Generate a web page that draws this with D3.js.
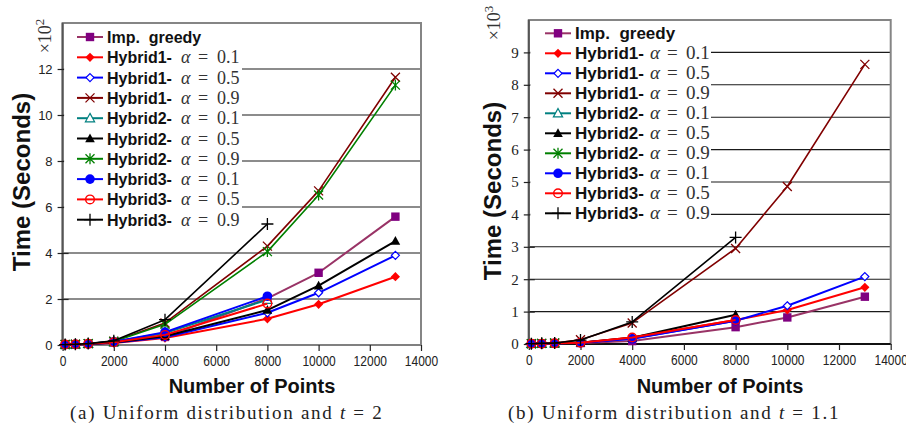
<!DOCTYPE html>
<html>
<head>
<meta charset="utf-8">
<script src="https://cdn.jsdelivr.net/npm/d3@7"></script>
<style>
  body { margin: 0; background: #fff; }
  svg { display: block; }
</style>
</head>
<body>
<svg id="fig" width="906" height="433"></svg>
<script>
// Problem sizes (number of points) shared by both panels
const pointCounts = [100, 500, 1000, 2000, 4000, 8000, 10000, 13000];
const xTickValues = [0, 2000, 4000, 6000, 8000, 10000, 12000, 14000];

// Legend entries
const methodNames = ["Imp. greedy", "Hybrid1-", "Hybrid1-", "Hybrid1-", "Hybrid2-", "Hybrid2-", "Hybrid2-", "Hybrid3-", "Hybrid3-", "Hybrid3-"];
const alphaValues = ["", "0.1", "0.5", "0.9", "0.1", "0.5", "0.9", "0.1", "0.5", "0.9"];

// Panel (a): uniform distribution, t = 2 (time in units of 10^2 s)
const yTicksA = [0, 2, 4, 6, 8, 10, 12];
const aImpGreedy = [0.02, 0.03, 0.05, 0.12, 0.35, 2.03, 3.14, 5.58];
const aHybrid1a01 = [0.01, 0.02, 0.04, 0.09, 0.30, 1.14, 1.77, 2.97];
const aHybrid1a05 = [0.01, 0.02, 0.04, 0.10, 0.34, 1.40, 2.27, 3.90];
const aHybrid1a09 = [0.02, 0.03, 0.06, 0.16, 0.96, 4.30, 6.70, 11.64];
const aHybrid2a01 = [0.02, 0.03, 0.05, 0.13, 0.52, 1.97];
const aHybrid2a05 = [0.01, 0.02, 0.04, 0.11, 0.38, 1.52, 2.58, 4.52];
const aHybrid2a09 = [0.02, 0.03, 0.06, 0.15, 0.90, 4.06, 6.52, 11.30];
const aHybrid3a01 = [0.02, 0.03, 0.05, 0.14, 0.56, 2.12];
const aHybrid3a05 = [0.02, 0.03, 0.05, 0.12, 0.44, 1.80];
const aHybrid3a09 = [0.02, 0.03, 0.06, 0.18, 1.10, 5.26];

// Panel (b): uniform distribution, t = 1.1 (time in units of 10^3 s)
const yTicksB = [0, 1, 2, 3, 4, 5, 6, 7, 8, 9];
const bImpGreedy = [0.01, 0.01, 0.02, 0.03, 0.09, 0.52, 0.82, 1.46];
const bHybrid1a01 = [0.01, 0.01, 0.02, 0.04, 0.20, 0.74, 1.05, 1.75];
const bHybrid1a05 = [0.01, 0.01, 0.02, 0.04, 0.17, 0.72, 1.18, 2.08];
const bHybrid1a09 = [0.01, 0.02, 0.03, 0.13, 0.65, 2.95, 4.86, 8.63];
const bHybrid2a01 = [0.01, 0.01, 0.02];
const bHybrid2a05 = [0.01, 0.01, 0.02, 0.04, 0.19, 0.90];
const bHybrid2a09 = [0.01, 0.02, 0.03];
const bHybrid3a01 = [0.01, 0.01, 0.02, 0.04, 0.16, 0.72];
const bHybrid3a05 = [0.01, 0.01, 0.02, 0.04, 0.20, 0.74];
const bHybrid3a09 = [0.01, 0.02, 0.03, 0.12, 0.68, 3.29];

// Line and marker style for each method, in legend order
const styles = [
  { line: "#993366", color: "#800080", marker: "square",   width: 2 },
  { line: "#ff0000", color: "#ff0000", marker: "diamond",  width: 2 },
  { line: "#0000ff", color: "#0000ff", marker: "diamondOpen", width: 2 },
  { line: "#800000", color: "#800000", marker: "cross",    width: 1.6 },
  { line: "#008080", color: "#008080", marker: "triangleOpen", width: 2 },
  { line: "#000000", color: "#000000", marker: "triangle", width: 2 },
  { line: "#008000", color: "#008000", marker: "asterisk", width: 1.6 },
  { line: "#0000ff", color: "#0000ff", marker: "circle",   width: 2 },
  { line: "#ff0000", color: "#ff0000", marker: "circleOpen", width: 2 },
  { line: "#000000", color: "#000000", marker: "plus",     width: 1.6 }
];

const seriesA = [aImpGreedy, aHybrid1a01, aHybrid1a05, aHybrid1a09, aHybrid2a01, aHybrid2a05, aHybrid2a09, aHybrid3a01, aHybrid3a05, aHybrid3a09];
const seriesB = [bImpGreedy, bHybrid1a01, bHybrid1a05, bHybrid1a09, bHybrid2a01, bHybrid2a05, bHybrid2a09, bHybrid3a01, bHybrid3a05, bHybrid3a09];

const svg = d3.select("#fig");
svg.append("rect").attr("width", 906).attr("height", 433).attr("fill", "#fff");

function drawMarker(g, kind, cx, cy, color) {
  const m = g.append("g").attr("transform", `translate(${cx},${cy})`);
  switch (kind) {
    case "square":
      m.append("rect").attr("x", -4.2).attr("y", -4.2).attr("width", 8.4).attr("height", 8.4).attr("fill", color);
      break;
    case "diamond":
      m.append("path").attr("d", "M0,-4.6L4.6,0L0,4.6L-4.6,0Z").attr("fill", color);
      break;
    case "diamondOpen":
      m.append("path").attr("d", "M0,-4L4,0L0,4L-4,0Z").attr("fill", "#fff").attr("stroke", color).attr("stroke-width", 1.2);
      break;
    case "cross":
      m.append("path").attr("d", "M-4.5,-4.5L4.5,4.5M-4.5,4.5L4.5,-4.5").attr("stroke", color).attr("stroke-width", 1.3);
      break;
    case "triangleOpen":
      m.append("path").attr("d", "M0,-4.8L4.6,3.6L-4.6,3.6Z").attr("fill", "#fff").attr("stroke", color).attr("stroke-width", 1.2);
      break;
    case "triangle":
      m.append("path").attr("d", "M0,-5L4.8,3.8L-4.8,3.8Z").attr("fill", color);
      break;
    case "asterisk":
      m.append("path").attr("d", "M-4.5,-4.5L4.5,4.5M-4.5,4.5L4.5,-4.5M0,-5.5L0,5.5").attr("stroke", color).attr("stroke-width", 1.3);
      break;
    case "circle":
      m.append("circle").attr("r", 4.8).attr("fill", color);
      break;
    case "circleOpen":
      m.append("circle").attr("r", 4.3).attr("fill", "none").attr("stroke", color).attr("stroke-width", 1.4);
      break;
    case "plus":
      m.append("path").attr("d", "M-6,0L6,0M0,-6L0,6").attr("stroke", color).attr("stroke-width", 1.3);
      break;
  }
}

function drawPanel(cfg) {
  const g = svg.append("g");
  const x = d3.scaleLinear().domain([0, 14000]).range([cfg.left, cfg.right]);
  const y = d3.scaleLinear().domain([0, cfg.yMax]).range([cfg.bottom, cfg.top]);

  // horizontal grid lines
  g.append("g").selectAll("line")
    .data(cfg.yTicks.filter(v => v > 0))
    .join("line")
    .attr("x1", cfg.left).attr("x2", cfg.right)
    .attr("y1", d => y(d)).attr("y2", d => y(d))
    .attr("stroke", "#1a1a1a").attr("stroke-width", 1.1);

  // plot frame
  g.append("rect")
    .attr("x", cfg.left).attr("y", cfg.top)
    .attr("width", cfg.right - cfg.left).attr("height", cfg.bottom - cfg.top)
    .attr("fill", "none").attr("stroke", "#858585").attr("stroke-width", 2);
  g.append("line")
    .attr("x1", cfg.left).attr("x2", cfg.right)
    .attr("y1", y(0)).attr("y2", y(0))
    .attr("stroke", cfg.zeroColor).attr("stroke-width", 2);
  g.append("line")
    .attr("x1", cfg.left).attr("x2", cfg.left)
    .attr("y1", cfg.top).attr("y2", cfg.bottom)
    .attr("stroke", "#555").attr("stroke-width", 2);

  // x axis
  const xAxis = g.append("g")
    .attr("transform", `translate(0,${cfg.bottom})`)
    .call(d3.axisBottom(x).tickValues(xTickValues).tickSize(6).tickFormat(d3.format("d")));
  xAxis.select(".domain").remove();
  xAxis.selectAll("line").attr("stroke", "#222").attr("stroke-width", 1.2);
  xAxis.selectAll("text")
    .attr("font-family", "Liberation Sans, Arial, sans-serif")
    .attr("font-size", 15).attr("fill", "#222")
    .attr("y", 10)
    .attr("transform", "scale(0.8,1)");

  // y axis
  const yAxis = g.append("g")
    .attr("transform", `translate(${cfg.left},0)`)
    .call(d3.axisLeft(y).tickValues(cfg.yTicks).tickSize(5).tickFormat(d3.format("d")));
  yAxis.select(".domain").remove();
  yAxis.selectAll("line").attr("x1", 6).attr("stroke", "#222").attr("stroke-width", 1.2);
  yAxis.selectAll("text")
    .attr("font-family", cfg.yFont)
    .attr("font-size", cfg.yFontSize)
    .attr("fill", "#222")
    .attr("x", -10);

  // exponent of the time unit
  const expo = g.append("text")
    .attr("transform", `translate(${cfg.expX},${cfg.expY}) rotate(-90)`)
    .attr("text-anchor", "middle")
    .attr("font-family", "Liberation Serif, serif")
    .attr("font-size", 18).attr("fill", "#333");
  expo.append("tspan").text("×10");
  expo.append("tspan").attr("font-size", 13).attr("dy", -7).text(cfg.exponent);

  // axis titles
  g.append("text")
    .attr("transform", `translate(${cfg.yTitleX},${cfg.yTitleY}) rotate(-90)`)
    .attr("text-anchor", "middle")
    .attr("font-family", "Liberation Sans, Arial, sans-serif")
    .attr("font-weight", "bold").attr("font-size", 24).attr("fill", "#111")
    .text("Time (Seconds)");
  g.append("text")
    .attr("x", cfg.xTitleX).attr("y", 393)
    .attr("text-anchor", "middle")
    .attr("font-family", "Liberation Sans, Arial, sans-serif")
    .attr("font-weight", "bold").attr("font-size", 20).attr("fill", "#111")
    .text("Number of Points");

  // caption
  const cap = g.append("text")
    .attr("x", cfg.captionX).attr("y", 419)
    .attr("font-family", "Liberation Serif, serif")
    .attr("font-size", 19).attr("fill", "#222")
    .attr("letter-spacing", 1.7);
  cap.append("tspan").text(cfg.captionPrefix + " Uniform distribution and ");
  cap.append("tspan").attr("font-style", "italic").text("t");
  cap.append("tspan").text(" = " + cfg.tValue);

  // legend box hides the grid behind it
  const lg = cfg.legend;
  g.append("rect")
    .attr("x", cfg.left + 1.5).attr("y", cfg.top + 1.5)
    .attr("width", lg.boxRight - cfg.left - 1.5).attr("height", lg.boxBottom - cfg.top - 1.5)
    .attr("fill", "#fff");

  methodNames.forEach((name, i) => {
    const st = styles[i];
    const ly = lg.y + i * lg.step;
    g.append("line")
      .attr("x1", lg.x).attr("x2", lg.x + 26)
      .attr("y1", ly).attr("y2", ly)
      .attr("stroke", st.line).attr("stroke-width", 2);
    drawMarker(g, st.marker, lg.x + 13, ly, st.color);
    g.append("text")
      .attr("x", lg.x + 30).attr("y", ly + 6)
      .attr("font-family", "Liberation Sans, Arial, sans-serif")
      .attr("font-weight", "bold").attr("font-size", lg.fontSize).attr("fill", "#111")
      .attr("xml:space", "preserve")
      .text(name === "Imp. greedy" ? "Imp.  greedy" : name);
    if (alphaValues[i]) {
      const ax = lg.x + 30 + lg.alphaOffset;
      const t = g.append("text")
        .attr("y", ly + 6)
        .attr("font-family", "Liberation Serif, serif")
        .attr("font-size", lg.fontSize + 2).attr("fill", "#333");
      t.append("tspan").attr("x", ax).attr("font-style", "italic").text("α");
      t.append("tspan").attr("x", ax + 17).text("=");
      t.append("tspan").attr("x", ax + 36).text(alphaValues[i]);
    }
  });

  // data series
  const line = d3.line().x(d => x(d[0])).y(d => y(d[1]));
  cfg.series.forEach((vals, i) => {
    const st = styles[i];
    const pts = vals.map((v, k) => [pointCounts[k], v]);
    g.append("path")
      .attr("d", line(pts))
      .attr("fill", "none")
      .attr("stroke", st.line)
      .attr("stroke-width", st.width)
      .attr("stroke-linejoin", "round");
    pts.forEach(p => drawMarker(g, st.marker, x(p[0]), y(p[1]), st.color));
  });
}

drawPanel({
  left: 62.6, right: 421, top: 23, bottom: 345, yMax: 14,
  yTicks: yTicksA, series: seriesA,
  yFont: "Liberation Sans, Arial, sans-serif", yFontSize: 13,
  exponent: "2", expX: 51, expY: 36,
  yTitleX: 30, yTitleY: 182,
  xTitleX: 252,
  captionX: 70, captionPrefix: "(a)", tValue: "2",
  zeroColor: "#808080",
  legend: { x: 77, y: 37, step: 20.3, fontSize: 16, alphaOffset: 74, boxRight: 242, boxBottom: 232 }
});

drawPanel({
  left: 528.8, right: 890.7, top: 20, bottom: 344, yMax: 10,
  yTicks: yTicksB, series: seriesB,
  yFont: "Liberation Serif, serif", yFontSize: 15,
  exponent: "3", expX: 500, expY: 23,
  yTitleX: 501, yTitleY: 191,
  xTitleX: 720,
  captionX: 508, captionPrefix: "(b)", tValue: "1.1",
  zeroColor: "#111",
  legend: { x: 545, y: 33.3, step: 20, fontSize: 17, alphaOffset: 75, boxRight: 711, boxBottom: 226 }
});
</script>
</body>
</html>
